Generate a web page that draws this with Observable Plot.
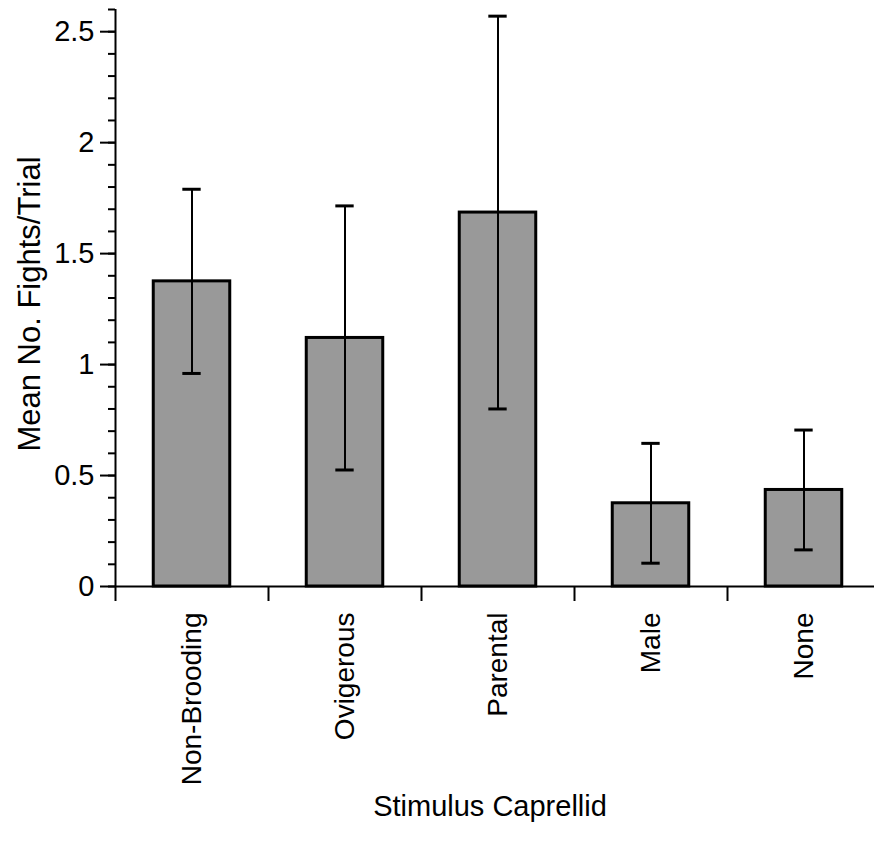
<!DOCTYPE html>
<html>
<head>
<meta charset="utf-8">
<script src="https://cdn.jsdelivr.net/npm/d3@7"></script>
<script src="https://cdn.jsdelivr.net/npm/@observablehq/plot@0.6"></script>
<style>
  html, body { margin: 0; padding: 0; background: #fff; }
  svg { display: block; overflow: visible; }
</style>
</head>
<body>
<div id="chart"></div>
<script>
const categories = ["Non-Brooding", "Ovigerous", "Parental", "Male", "None"];
const means = [1.375, 1.12, 1.685, 0.375, 0.435];
const lower = [0.96, 0.525, 0.80, 0.105, 0.165];
const upper = [1.79, 1.715, 2.57, 0.645, 0.705];
const yMajorTicks = [0, 0.5, 1, 1.5, 2, 2.5];
const yMinorTicks = [0, 0.1, 0.2, 0.3, 0.4, 0.5, 0.6, 0.7, 0.8, 0.9, 1.0, 1.1, 1.2, 1.3, 1.4, 1.5, 1.6, 1.7, 1.8, 1.9, 2.0, 2.1, 2.2, 2.3, 2.4, 2.5, 2.6];
const yLabel = "Mean No. Fights/Trial";
const xLabel = "Stimulus Caprellid";

const data = categories.map((c, i) => ({cat: c, i, mean: means[i], lo: lower[i], hi: upper[i]}));
const boundaries = categories.map((c, i) => i).concat([categories.length]);

const font = "'Liberation Sans', Arial, sans-serif";

const chart = Plot.plot({
  width: 874,
  height: 848,
  marginLeft: 115,
  marginRight: -6,
  marginTop: 9,
  marginBottom: 262,
  style: {fontFamily: font, fontSize: "28px", color: "#000", background: "#fff"},
  x: {type: "linear", domain: [0, categories.length]},
  y: {domain: [0, 2.6]},
  marks: [
    Plot.rectY(data, {x1: d => d.i + 0.25, x2: d => d.i + 0.75, y1: 0, y2: "mean", fill: "#999999", stroke: "#000", strokeWidth: 3}),
    Plot.ruleX(data, {x: d => d.i + 0.5, y1: "lo", y2: "hi", stroke: "#000", strokeWidth: 2}),
    Plot.ruleY(data, {y: "hi", x1: d => d.i + 0.44, x2: d => d.i + 0.56, stroke: "#000", strokeWidth: 3}),
    Plot.ruleY(data, {y: "lo", x1: d => d.i + 0.44, x2: d => d.i + 0.56, stroke: "#000", strokeWidth: 3}),
    Plot.ruleY([0], {stroke: "#000", strokeWidth: 2}),
    Plot.ruleX([0], {stroke: "#000", strokeWidth: 2}),
    Plot.axisY({ticks: yMinorTicks, tickSize: 7, tickFormat: () => "", strokeWidth: 2, label: null}),
    Plot.axisY({ticks: yMajorTicks, tickSize: 15, tickPadding: 6, strokeWidth: 2, fontSize: 29, tickFormat: d => String(d), label: null}),
    Plot.axisX({ticks: boundaries, tickSize: 15, tickFormat: () => "", strokeWidth: 2, label: null}),
    Plot.text(data, {x: d => d.i + 0.5, y: 0, text: "cat", rotate: -90, textAnchor: "end", dy: 26, fontSize: 28}),
    Plot.text([yLabel], {frameAnchor: "left", textAnchor: "middle", text: d => d, rotate: -90, dx: -85, dy: 6, fontSize: 31}),
    Plot.text([xLabel], {frameAnchor: "bottom", textAnchor: "middle", text: d => d, dy: 229, dx: -8, fontSize: 29})
  ]
});
document.getElementById("chart").appendChild(chart);
</script>
</body>
</html>
